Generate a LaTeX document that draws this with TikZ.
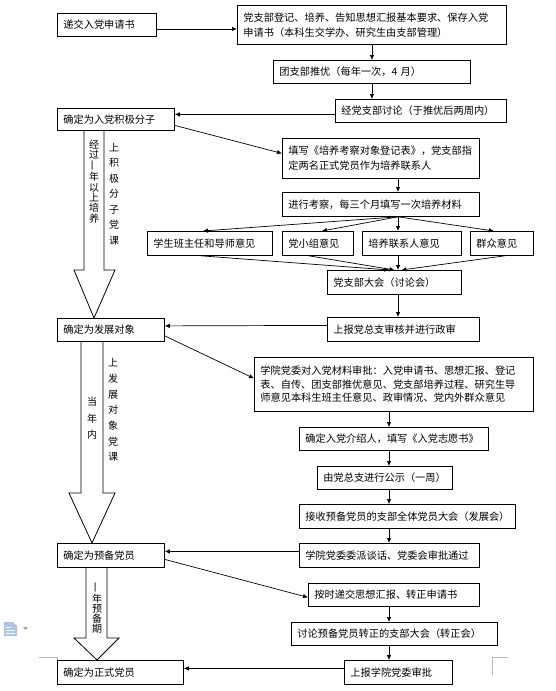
\documentclass[tikz,border=0pt]{standalone}
\usepackage{fontspec}
\setmainfont{Noto Sans CJK SC}
\usetikzlibrary{arrows.meta}
\definecolor{iconblue}{RGB}{176,196,228}

\begin{document}
\begin{tikzpicture}[x=1pt,y=-1pt,
		box/.style={draw,line width=0.8pt,anchor=north west,inner xsep=6pt,inner ysep=0pt,align=left,font=\fontsize{10.2}{15}\selectfont},
		arr/.style={-{Latex[length=5pt,width=4.5pt]},line width=0.7pt},
		hollow/.style={draw,line width=0.8pt},
		vtext/.style={align=center,inner sep=0pt,font=\fontsize{10}{#1}\selectfont}]
		\useasboundingbox (0,0) rectangle (555,691);
		\draw[gray!55,line width=0.6pt] (39,657)--(57,657)--(57,675);
		\draw[gray!55,line width=0.6pt] (508,657)--(492,657)--(492,675);
		\fill[iconblue] (4,622)--(13,622)--(17,626)--(17,636)--(4,636)--cycle;
		\draw[white,line width=1pt] (6,627)--(11,627) (6,630)--(15,630) (6,633)--(15,633);
		\fill[gray!70] (23,627)--(28,627)--(25.5,630)--cycle;
		\coordinate (axis) at (398,0);
		\coordinate (axisb) at (389,0);

		\node[box,text width=87,minimum height=23] (apply) at (57,13) {递交入党申请书};
		\node[box,text width=257,minimum height=39] (reg) at (237,5) {党支部登记、培养、告知思想汇报基本要求、保存入党\\申请书（本科生交学办、研究生由支部管理）};
		\node[box,text width=185,minimum height=23] (recom) at (273,60) {团支部推优（每年一次，4 月）};
		\node[box,text width=159,minimum height=23] (disc) at (335,99) {经党支部讨论（于推优后两周内）};
		\node[box,text width=105,minimum height=22] (act) at (57,108) {确定为入党积极分子};
		\node[box,text width=185,minimum height=40] (form) at (282,138) {填写《培养考察对象登记表》，党支部指\\定两名正式党员作为培养联系人};
		\node[box,text width=185,minimum height=24] (exam) at (282,192) {进行考察，每三个月填写一次培养材料};
		\node[box,text width=113,minimum height=24] (op1) at (147,231) {学生班主任和导师意见};
		\node[box,text width=59,minimum height=24] (op2) at (282,231) {党小组意见};
		\node[box,text width=87,minimum height=24] (op3) at (362,231) {培养联系人意见};
		\node[box,text width=51,minimum height=24] (op4) at (470,231) {群众意见};
		\node[box,text width=122,minimum height=24] (meet) at (327,270) {党支部大会（讨论会）};
		\node[box,text width=140,minimum height=24] (review) at (327,317) {上报党总支审核并进行政审};
		\node[box,text width=95,minimum height=23] (cand) at (57,318) {确定为发展对象};
		\node[box,text width=267,minimum height=54,font=\fontsize{10.2}{13.5}\selectfont] (appr) at (254,357) {学院党委对入党材料审批：入党申请书、思想汇报、登记\\表、自传、团支部推优意见、党支部培养过程、研究生导\\师意见本科生班主任意见、政审情况、党内外群众意见};
		\node[box,text width=177,minimum height=23] (intro) at (299,427) {确定入党介绍人，填写《入党志愿书》};
		\node[box,text width=123,minimum height=23] (pub) at (317,466) {由党总支进行公示（一周）};
		\node[box,text width=204,minimum height=24] (accept) at (299,504) {接收预备党员的支部全体党员大会（发展会）};
		\node[box,text width=168,minimum height=24] (talk) at (299,543) {学院党委委派谈话、党委会审批通过};
		\node[box,text width=95,minimum height=24] (prob) at (57,543) {确定为预备党员};
		\node[box,text width=159,minimum height=23] (report) at (308,583) {按时递交思想汇报、转正申请书};
		\node[box,text width=194,minimum height=23] (conv) at (291,622) {讨论预备党员转正的支部大会（转正会）};
		\node[box,text width=96,minimum height=24] (final) at (344,660) {上报学院党委审批};
		\node[box,text width=114,minimum height=24] (full) at (57,660) {确定为正式党员};

		\draw[arr] ([yshift=-4pt]apply.east)--([yshift=-4pt]apply.east -| reg.west);
		\draw[arr] (reg.south)--(recom.north);
		\draw[arr] (recom.south)--(recom.south |- disc.north);
		\draw[arr] ([yshift=-3.5pt]disc.west)--([yshift=5pt]act.east);
		\draw[arr] ([yshift=-6pt]act.east)--([yshift=5pt]form.west);
		\draw[arr] (form.south -| axis)--(exam.north -| axis);
		\draw[arr] (exam.south -| axis)--([xshift=-7pt]op1.north);
		\draw[arr] (exam.south -| axis)--([xshift=4pt]op2.north);
		\draw[arr] (exam.south -| axis)--(op3.north -| axis);
		\draw[arr] (exam.south -| axis)--([xshift=-8pt]op4.north);
		\draw[arr] ([xshift=-9pt]op1.south)--([xshift=-5pt]meet.north);
		\draw[arr] ([xshift=-9pt]op2.south)--(meet.north);
		\draw[arr] (op3.south -| axis)--(meet.north -| axis);
		\draw[arr] ([xshift=3pt]op4.south)--([xshift=7pt]meet.north);
		\draw[arr] (meet.south -| axis)--(review.north -| axis);
		\draw[arr] ([yshift=4pt]review.west)--([yshift=4pt]cand.east);
		\draw[arr] ([yshift=-6pt]cand.east)--([yshift=6pt]appr.west);
		\draw[arr] (appr.south -| axisb)--(intro.north -| axisb);
		\draw[arr] (intro.south -| axisb)--(pub.north -| axisb);
		\draw[arr] (pub.south -| axisb)--(accept.north -| axisb);
		\draw[arr] (accept.south -| axisb)--(talk.north -| axisb);
		\draw[arr] ([yshift=4pt]talk.west)--([yshift=4pt]prob.east);
		\draw[arr] ([yshift=-4pt]prob.east)--([yshift=-2.5pt]report.west);
		\draw[arr] (report.south -| axisb)--(conv.north -| axisb);
		\draw[arr] (conv.south -| axisb)--(final.north -| axisb);
		\draw[arr] ([yshift=4pt]final.west)--([yshift=4pt]full.east);

		\draw[hollow] (84,0 |- act.south)--(84,270)--(74,270)--(94,0 |- cand.north)--(115,270)--(104,270)--(104,0 |- act.south);
		\draw[hollow] (81,0 |- cand.south)--(81,493)--(69,493)--(92,0 |- prob.north)--(115,493)--(103,493)--(103,0 |- cand.south);
		\draw[hollow] (86,0 |- prob.south)--(86,638)--(74,638)--(97,0 |- full.north)--(119,638)--(107,638)--(107,0 |- prob.south);
		\node[vtext=10.4] (t1) at (94,181.5) {经\\过\\\rotatebox{90}{一}\\年\\以\\上\\培\\养};
		\node[vtext=15.5] (t2) at (114,194) {上\\积\\极\\分\\子\\党\\课};
		\node[vtext=16.5] (t3) at (92,418.5) {当\\年\\内};
		\node[vtext=15.7] (t4) at (113,410) {上\\发\\展\\对\\象\\党\\课};
		\node[vtext=10] (t5) at (97,608) {\rotatebox{90}{一}\\年\\预\\备\\期};
\end{tikzpicture}
\end{document}
